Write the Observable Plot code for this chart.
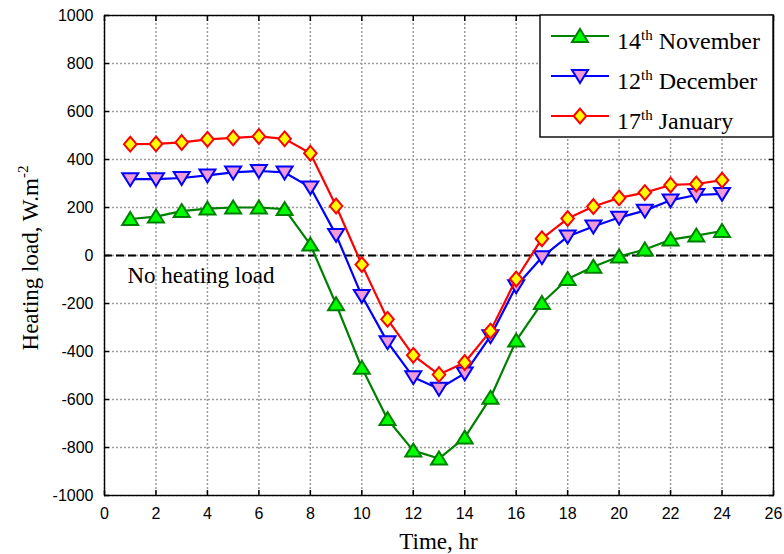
<!DOCTYPE html>
<html>
<head>
<meta charset="utf-8">
<script src="https://cdn.jsdelivr.net/npm/d3@7"></script>
<script src="https://cdn.jsdelivr.net/npm/@observablehq/plot@0.6"></script>
<style>
  html, body { margin: 0; padding: 0; background: #fff; }
  #chart { width: 784px; height: 554px; }
</style>
</head>
<body>
<div id="chart"></div>
<script>
// ---- data ----
const hours = [1, 2, 3, 4, 5, 6, 7, 8, 9, 10, 11, 12, 13, 14, 15, 16, 17, 18, 19, 20, 21, 22, 23, 24];
const november = [152, 162, 185, 195, 200, 200, 193, 45, -203, -468, -682, -813, -846, -759, -593, -355, -198, -98, -47, -4, 25, 66, 83, 102];
const december = [318, 318, 323, 334, 346, 352, 346, 284, 86, -168, -361, -507, -555, -491, -336, -128, -7, 79, 121, 158, 187, 230, 252, 257];
const january = [464, 465, 471, 484, 490, 496, 486, 426, 206, -38, -266, -416, -496, -446, -315, -98, 70, 154, 204, 240, 262, 294, 298, 314];
const seriesNames = ["14th November", "12th December", "17th January"];
const legendDay = ["14", "12", "17"];
const legendMonth = ["November", "December", "January"];
const xTicks = [0, 2, 4, 6, 8, 10, 12, 14, 16, 18, 20, 22, 24, 26];
const yTicks = [-1000, -800, -600, -400, -200, 0, 200, 400, 600, 800, 1000];
const xLabel = "Time, hr";
const yLabel = "Heating load, W.m";
const yLabelSup = "-2";
const zeroLabel = "No heating load";

// ---- marker shapes (MATLAB-like) ----
const triUp = { draw(ctx, size) { const r = Math.sqrt(size / Math.PI); ctx.moveTo(0, -r * 0.95); ctx.lineTo(r * 1.08, r * 0.8); ctx.lineTo(-r * 1.08, r * 0.8); ctx.closePath(); } };
const triDown = { draw(ctx, size) { const r = Math.sqrt(size / Math.PI); ctx.moveTo(0, r * 0.95); ctx.lineTo(r * 1.08, -r * 0.8); ctx.lineTo(-r * 1.08, -r * 0.8); ctx.closePath(); } };
const diamond = { draw(ctx, size) { const r = Math.sqrt(size / Math.PI); ctx.moveTo(0, -r); ctx.lineTo(r * 0.85, 0); ctx.lineTo(0, r); ctx.lineTo(-r * 0.85, 0); ctx.closePath(); } };

const styles = [
  { stroke: "#008000", fill: "#00ff00", symbol: triUp },
  { stroke: "#0000ff", fill: "#f09ad6", symbol: triDown },
  { stroke: "#ff0000", fill: "#ffff00", symbol: diamond }
];
const valueSets = [november, december, january];
const tables = valueSets.map((vals, k) => hours.map((h, i) => ({ series: seriesNames[k], hour: h, load: vals[i] })));

const gridStyle = { stroke: "#9a9a9a", strokeOpacity: 1, strokeDasharray: "2,2", strokeWidth: 1.5 };
const tickStyle = { stroke: "#000", strokeWidth: 1.5, tickFormat: () => "", label: null };
const serif = "'Liberation Serif', 'Times New Roman', serif";
const sans = "'Liberation Sans', Arial, sans-serif";

const seriesMarks = tables.flatMap((rows, k) => [
  Plot.line(rows, { x: "hour", y: "load", stroke: styles[k].stroke, strokeWidth: 2.2 }),
  Plot.dot(rows, { x: "hour", y: "load", symbol: styles[k].symbol, r: 7.4, fill: styles[k].fill, stroke: styles[k].stroke, strokeWidth: 2 })
]);

const plot = Plot.plot({
  width: 784,
  height: 554,
  marginLeft: 104,
  marginRight: 11,
  marginTop: 15,
  marginBottom: 59,
  x: { domain: [0, 26] },
  y: { domain: [-1000, 1000] },
  marks: [
    Plot.ruleX(xTicks, { x: d => d, ...gridStyle }),
    Plot.ruleY(yTicks, { y: d => d, ...gridStyle }),
    Plot.ruleY([0], { stroke: "#000", strokeWidth: 2.2, strokeDasharray: "8,4" }),
    Plot.text([zeroLabel], { x: 0, y: 0, text: d => d, dx: 23, dy: 20, textAnchor: "start", lineAnchor: "middle", fontFamily: serif, fontSize: 23, fill: "#000" }),
    ...seriesMarks,
    Plot.axisX(xTicks, { anchor: "bottom", tickSize: 0, tickPadding: 12, fontSize: 16, fontFamily: sans, fill: "#000", label: null, tickFormat: d => String(d) }),
    Plot.axisX(xTicks, { anchor: "bottom", tickSize: -5, ...tickStyle }),
    Plot.axisX(xTicks, { anchor: "top", tickSize: -5, ...tickStyle }),
    Plot.axisY(yTicks, { anchor: "left", tickSize: 0, tickPadding: 11, fontSize: 16, fontFamily: sans, fill: "#000", label: null, tickFormat: d => String(d) }),
    Plot.axisY(yTicks, { anchor: "left", tickSize: -5, ...tickStyle }),
    Plot.axisY(yTicks, { anchor: "right", tickSize: -5, ...tickStyle }),
    Plot.frame({ stroke: "#000", strokeWidth: 1.4 })
  ]
});

document.getElementById("chart").appendChild(plot);

// ---- axis titles and legend (text overlays) ----
const svg = d3.select(plot);
const xs = plot.scale("x");
const x0 = xs.apply(0), x1 = xs.apply(26);

svg.append("text")
  .attr("x", (x0 + x1) / 2).attr("y", 549)
  .attr("text-anchor", "middle")
  .attr("font-family", serif).attr("font-size", 23).attr("fill", "#000")
  .text(xLabel);

const yl = svg.append("text")
  .attr("transform", "translate(38,258) rotate(-90)")
  .attr("text-anchor", "middle")
  .attr("font-family", serif).attr("font-size", 23).attr("fill", "#000");
yl.append("tspan").text(yLabel);
yl.append("tspan").attr("dy", -10).attr("font-size", 15).text(yLabelSup);

const lg = svg.append("g");
lg.append("rect").attr("x", 540).attr("y", 15).attr("width", 233).attr("height", 122)
  .attr("fill", "#fff").attr("stroke", "#000").attr("stroke-width", 1.4);
const rowY = [36, 76, 116];
styles.forEach((s, k) => {
  const y = rowY[k];
  lg.append("line").attr("x1", 551).attr("x2", 609).attr("y1", y).attr("y2", y)
    .attr("stroke", s.stroke).attr("stroke-width", 2.2);
  lg.append("path").attr("transform", `translate(580,${y})`)
    .attr("d", d3.symbol(s.symbol, 7.4 * 7.4 * Math.PI)())
    .attr("fill", s.fill).attr("stroke", s.stroke).attr("stroke-width", 2);
  const t = lg.append("text").attr("x", 617).attr("y", y + 13)
    .attr("text-anchor", "start")
    .attr("font-family", serif).attr("font-size", 24).attr("fill", "#000");
  t.append("tspan").text(legendDay[k]);
  t.append("tspan").attr("dy", -9).attr("font-size", 15).text("th");
  t.append("tspan").attr("dy", 9).text(" " + legendMonth[k]);
});
</script>
</body>
</html>
